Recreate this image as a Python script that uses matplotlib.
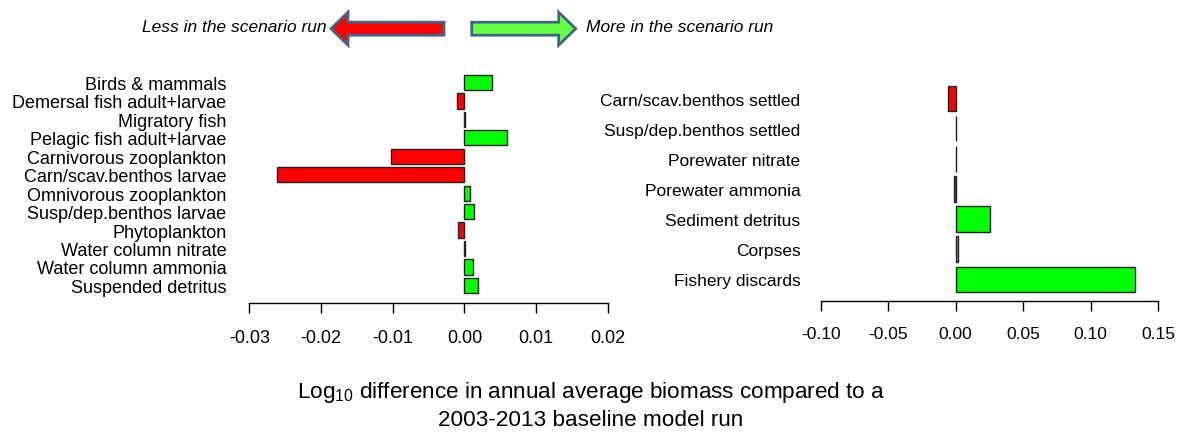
import numpy as np
import matplotlib
matplotlib.use("Agg")
import matplotlib.pyplot as plt
from matplotlib.patches import FancyArrow
from matplotlib.transforms import Affine2D

plt.rcParams['font.family'] = ['Liberation Sans', 'DejaVu Sans']
plt.rcParams['mathtext.default'] = 'regular'

# pelagic / water column groups (top to bottom)
left_labels = ["Birds & mammals", "Demersal fish adult+larvae", "Migratory fish",
               "Pelagic fish adult+larvae", "Carnivorous zooplankton",
               "Carn/scav.benthos larvae", "Omnivorous zooplankton",
               "Susp/dep.benthos larvae", "Phytoplankton", "Water column nitrate",
               "Water column ammonia", "Suspended detritus"]
left_vals = [0.0039, -0.00106, 0.0001, 0.0060, -0.0103, -0.0261,
             0.00075, 0.0013, -0.00088, 0.0001, 0.00117, 0.00195]
left_ticks = [-0.03, -0.02, -0.01, 0.00, 0.01, 0.02]

# seabed groups (top to bottom)
right_labels = ["Carn/scav.benthos settled", "Susp/dep.benthos settled",
                "Porewater nitrate", "Porewater ammonia", "Sediment detritus",
                "Corpses", "Fishery discards"]
right_vals = [-0.0055, 0.0005, 0.0002, -0.0011, 0.0256, 0.0017, 0.1326]
right_ticks = [-0.10, -0.05, 0.00, 0.05, 0.10, 0.15]

W, H = 1182, 439
GREEN, RED = '#00ff00', '#ff0000'

fig = plt.figure(figsize=(W / 100, H / 100), dpi=100)
# pixel coords (origin top-left) -> figure
px = Affine2D().scale(1 / W, -1 / H).translate(0, 1) + fig.transFigure


def make_axes(x0, x1, y0, y1):
    return fig.add_axes([x0 / W, 1 - y1 / H, (x1 - x0) / W, (y1 - y0) / H])


def draw_panel(ax, labels, vals, ticks, ylim, height, fs, lpad):
    pos = np.arange(len(labels))
    cols = [GREEN if v >= 0 else RED for v in vals]
    ax.barh(pos, vals, height=height, color=cols, edgecolor='#222222', linewidth=1)
    ax.set_ylim(*ylim)
    ax.set_xlim(ticks[0], ticks[-1])
    ax.set_yticks(pos)
    ax.set_yticklabels(labels, fontsize=fs)
    ax.set_xticks(ticks)
    ax.set_xticklabels([f"{t:.2f}" for t in ticks], fontsize=fs)
    for s in ['top', 'right', 'left']:
        ax.spines[s].set_visible(False)
    ax.spines['bottom'].set_linewidth(1)
    ax.tick_params(axis='y', left=False, pad=lpad)
    ax.tick_params(axis='x', direction='out', length=7.5, width=1, pad=11)
    ax.patch.set_alpha(0)


axl = make_axes(249.3, 607.8, 70, 304.3)
draw_panel(axl, left_labels, left_vals, left_ticks, (11.97, -0.73), 0.83, 13, 13)

axr = make_axes(820.7, 1158.2, 70, 301.5)
draw_panel(axr, right_labels, right_vals, right_ticks, (6.7, -0.98), 0.85, 12.5, 11)

# direction arrows at the top
fig.patches.append(FancyArrow(444, 29.7, -113, 0, width=13, head_width=33,
                              head_length=17, length_includes_head=True,
                              facecolor=RED, edgecolor='#41648a', linewidth=2,
                              transform=px))
fig.patches.append(FancyArrow(471.7, 29.7, 104, 0, width=13, head_width=33,
                              head_length=17, length_includes_head=True,
                              facecolor='#66ff44', edgecolor='#41648a', linewidth=2,
                              transform=px))
fig.text(326, 28, "Less in the scenario run", transform=px, ha='right', va='center',
         fontsize=12.5, style='italic')
fig.text(586, 28, "More in the scenario run", transform=px, ha='left', va='center',
         fontsize=12.5, style='italic')

fig.text(591, 393, "Log$_{10}$ difference in annual average biomass compared to a",
         transform=px, ha='center', va='center', fontsize=16.2)
fig.text(591, 421, "2003-2013 baseline model run", transform=px, ha='center',
         va='center', fontsize=16.2)

fig.savefig("out.png", dpi=100)
